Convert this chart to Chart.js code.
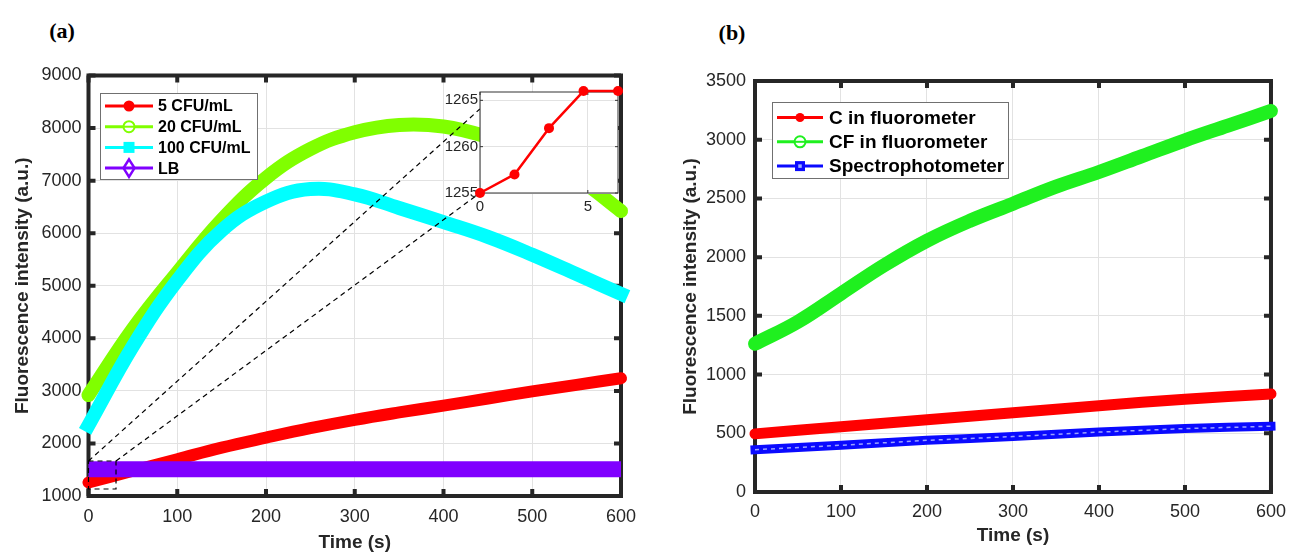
<!DOCTYPE html>
<html>
<head>
<meta charset="utf-8">
<title>Fluorescence intensity over time</title>
<script src="https://cdn.jsdelivr.net/npm/chart.js@4.4.0/dist/chart.umd.min.js"></script>
<style>
  body { margin: 0; background: #fff; width: 1295px; height: 553px; position: relative; overflow: hidden; }
  .panel { position: absolute; }
  .tag { position: absolute; font: bold 22px 'Liberation Serif', 'Times New Roman', serif; color: #000; transform: translate(-50%, -50%); }
</style>
</head>
<body>
<div class="tag" style="left:62px; top:31px;">(a)</div>
<div class="tag" style="left:732px; top:33px;">(b)</div>
<canvas id="chartA" class="panel" width="650" height="553" style="left:0; top:0;"></canvas>
<canvas id="chartB" class="panel" width="645" height="553" style="left:650px; top:0;"></canvas>
<canvas id="chartInset" class="panel" width="183" height="137" style="left:440px; top:81px;"></canvas>

<script>
// ---- data ----
// panel (a): every 50 s
const timeA = [0, 50, 100, 150, 200, 250, 300, 350, 400, 450, 500, 550, 600];
const cfu5 = [1258, 1480, 1700, 1920, 2110, 2290, 2450, 2590, 2720, 2855, 2990, 3115, 3240];
const cfu20 = [2920, 4180, 5250, 6250, 7050, 7600, 7920, 8060, 8030, 7830, 7520, 7060, 6420];
const cfu100 = [2345, 3850, 5100, 6050, 6600, 6840, 6740, 6480, 6210, 5930, 5590, 5220, 4845];
const timeLB = [0, 100, 200, 300, 400, 500, 600];
const lbValues = [1510, 1510, 1510, 1510, 1510, 1510, 1510];

// inset of panel (a): first seconds of 5 CFU/mL
const insetTime = [0, 1.6, 3.2, 4.8, 6.4];
const insetValues = [1255, 1257, 1262, 1266, 1266];

// panel (b)
const timeB = [0, 50, 100, 150, 200, 250, 300, 350, 400, 450, 500, 550, 600];
const cfFluor = [1262, 1450, 1690, 1930, 2140, 2310, 2455, 2600, 2725, 2860, 2995, 3120, 3245];
const timeLinear = [0, 100, 200, 300, 400, 500, 600];
const cFluor = [495, 555, 615, 675, 735, 790, 835];
const spectro = [360, 398, 440, 472, 510, 540, 560];

// tick labels
const ticksTime = [0, 100, 200, 300, 400, 500, 600];
const ticksA = [1000, 2000, 3000, 4000, 5000, 6000, 7000, 8000, 9000];
const ticksB = [0, 500, 1000, 1500, 2000, 2500, 3000, 3500];
const ticksInsetX = [0, 5];
const ticksInsetY = [1255, 1260, 1265];

const FONT = "'Liberation Sans', Arial, sans-serif";
const GRID = '#e2e2e2';
const AXIS = '#262626';

Chart.defaults.font.family = FONT;
Chart.defaults.color = AXIS;
Chart.defaults.animation = false;
Chart.defaults.events = [];
Chart.defaults.plugins.legend.display = false;
Chart.defaults.plugins.tooltip.enabled = false;

function toPoints(xs, ys) {
    return xs.map((x, i) => ({ x: x, y: ys[i] }));
}

function fixedTicks(values) {
    return function(scale) {
        scale.ticks = values.map(v => ({ value: v }));
    };
}

// legend / marker glyphs, MATLAB style
function drawMarker(ctx, kind, x, y, color, r) {
    ctx.save();
    ctx.lineWidth = 2;
    ctx.strokeStyle = color;
    ctx.fillStyle = color;
    ctx.beginPath();
    if (kind === 'dot') {
        ctx.arc(x, y, r, 0, Math.PI * 2);
        ctx.fill();
    } else if (kind === 'ring') {
        ctx.arc(x, y, r, 0, Math.PI * 2);
        ctx.fillStyle = '#fff';
        ctx.fill();
        ctx.stroke();
        ctx.beginPath();
        ctx.moveTo(x - r, y);
        ctx.lineTo(x + r, y);
        ctx.stroke();
    } else if (kind === 'square') {
        ctx.fillRect(x - r, y - r, r * 2, r * 2);
    } else if (kind === 'squareOpen') {
        ctx.fillRect(x - r, y - r, r * 2, r * 2);
        ctx.fillStyle = '#9db0ff';
        ctx.fillRect(x - r * 0.35, y - r * 0.35, r * 0.7, r * 0.7);
    } else if (kind === 'diamond') {
        ctx.moveTo(x, y - r * 1.6);
        ctx.lineTo(x + r, y);
        ctx.lineTo(x, y + r * 1.6);
        ctx.lineTo(x - r, y);
        ctx.closePath();
        ctx.lineWidth = 2.5;
        ctx.stroke();
    }
    ctx.restore();
}

// thick box + inward ticks on all four sides
const matlabFrame = {
    id: 'matlabFrame',
    beforeDraw(chart, args, opts) {
        if (!opts.fill) return;
        const a = chart.chartArea;
        chart.ctx.save();
        chart.ctx.fillStyle = opts.fill;
        chart.ctx.fillRect(a.left, a.top, a.right - a.left, a.bottom - a.top);
        chart.ctx.restore();
    },
    beforeDatasetsDraw(chart, args, opts) {
        const { ctx, chartArea: a, scales } = chart;
        ctx.save();
        ctx.strokeStyle = opts.color;
        ctx.lineWidth = opts.width;
        ctx.strokeRect(a.left, a.top, a.right - a.left, a.bottom - a.top);
        if (opts.tickLen > 0) {
            ctx.lineWidth = opts.tickWidth;
            ctx.beginPath();
            scales.x.ticks.forEach(t => {
                const px = scales.x.getPixelForValue(t.value);
                ctx.moveTo(px, a.bottom);
                ctx.lineTo(px, a.bottom - opts.tickLen);
                ctx.moveTo(px, a.top);
                ctx.lineTo(px, a.top + opts.tickLen);
            });
            scales.y.ticks.forEach(t => {
                const py = scales.y.getPixelForValue(t.value);
                ctx.moveTo(a.left, py);
                ctx.lineTo(a.left + opts.tickLen, py);
                ctx.moveTo(a.right, py);
                ctx.lineTo(a.right - opts.tickLen, py);
            });
            ctx.stroke();
        }
        ctx.restore();
    }
};

const boxLegend = {
    id: 'boxLegend',
    afterDraw(chart, args, o) {
        const ctx = chart.ctx;
        ctx.save();
        ctx.fillStyle = '#fff';
        ctx.fillRect(o.left, o.top, o.width, o.height);
        ctx.strokeStyle = '#707070';
        ctx.lineWidth = 1;
        ctx.strokeRect(o.left + 0.5, o.top + 0.5, o.width, o.height);
        ctx.font = 'bold ' + o.fontSize + 'px ' + FONT;
        ctx.textBaseline = 'middle';
        chart.data.datasets.forEach((ds, i) => {
            const y = o.top + o.firstRow + i * o.rowGap;
            ctx.strokeStyle = ds.borderColor;
            ctx.lineWidth = 3;
            ctx.beginPath();
            ctx.moveTo(o.sampleX0, y);
            ctx.lineTo(o.sampleX1, y);
            ctx.stroke();
            drawMarker(ctx, ds.legendMarker, (o.sampleX0 + o.sampleX1) / 2, y, ds.borderColor, ds.legendSize || o.markerSize);
            ctx.fillStyle = '#000';
            ctx.fillText(ds.label, o.textX, y + 1);
        });
        ctx.restore();
    }
};

// zoom box and the two dashed connectors to the inset
const zoomGuide = {
    id: 'zoomGuide',
    afterDatasetsDraw(chart, args, o) {
        const { ctx, scales } = chart;
        const px = v => scales.x.getPixelForValue(v);
        const py = v => scales.y.getPixelForValue(v);
        ctx.save();
        ctx.strokeStyle = '#000';
        ctx.lineWidth = 1.2;
        ctx.setLineDash([5, 4]);
        const b = o.box;
        ctx.strokeRect(px(b.x0), py(b.y1), px(b.x1) - px(b.x0), py(b.y0) - py(b.y1));
        ctx.beginPath();
        o.links.forEach(l => {
            ctx.moveTo(px(l[0]), py(l[1]));
            ctx.lineTo(px(l[2]), py(l[3]));
        });
        ctx.stroke();
        ctx.restore();
    }
};

// light dashes running along the blue marker band
const innerDash = {
    id: 'innerDash',
    afterDatasetsDraw(chart) {
        const ctx = chart.ctx;
        chart.data.datasets.forEach((ds, i) => {
            if (!ds.innerDash) return;
            const pts = chart.getDatasetMeta(i).data;
            ctx.save();
            ctx.strokeStyle = ds.innerDash;
            ctx.lineWidth = 1.5;
            ctx.setLineDash([4, 4]);
            ctx.beginPath();
            pts.forEach((p, k) => k === 0 ? ctx.moveTo(p.x, p.y) : ctx.lineTo(p.x, p.y));
            ctx.stroke();
            ctx.restore();
        });
    }
};

function lineSet(label, xs, ys, color, width, marker, order, extra) {
    return Object.assign({
        label: label,
        data: toPoints(xs, ys),
        borderColor: color,
        backgroundColor: color,
        borderWidth: width,
        borderCapStyle: 'round',
        borderJoinStyle: 'round',
        tension: 0.4,
        pointRadius: 0,
        clip: false,
        order: order,
        legendMarker: marker
    }, extra || {});
}

const plainNumber = v => String(v);

function axes(opts) {
    return {
        x: {
            type: 'linear',
            min: opts.xMin, max: opts.xMax,
            afterBuildTicks: fixedTicks(opts.xTicks),
            afterFit: s => { s.height = opts.xHeight; },
            grid: { color: GRID, drawTicks: false, lineWidth: 1 },
            border: { display: false },
            ticks: { padding: opts.xPad, maxRotation: 0, font: { size: opts.tickSize }, color: AXIS, callback: plainNumber },
            title: opts.xTitle ? {
                display: true, text: opts.xTitle, color: AXIS,
                font: { size: 19, weight: 'bold', lineHeight: 1 },
                padding: { top: 0, bottom: opts.xTitlePad }
            } : { display: false }
        },
        y: {
            type: 'linear',
            min: opts.yMin, max: opts.yMax,
            afterBuildTicks: fixedTicks(opts.yTicks),
            afterFit: s => { s.width = opts.yWidth; },
            grid: { color: GRID, drawTicks: false, lineWidth: 1 },
            border: { display: false },
            ticks: { padding: opts.yPad, font: { size: opts.tickSize }, color: AXIS, callback: plainNumber },
            title: opts.yTitle ? {
                display: true, text: opts.yTitle, color: AXIS,
                font: { size: 19, weight: 'bold', lineHeight: 1 },
                padding: { top: opts.yTitlePad, bottom: 0 }
            } : { display: false }
        }
    };
}

// ---- panel (a) ----
new Chart(document.getElementById('chartA'), {
    type: 'line',
    data: {
        datasets: [
            lineSet('5 CFU/mL', timeA, cfu5, '#ff0000', 12, 'dot', 3),
            lineSet('20 CFU/mL', timeA, cfu20, '#80ff00', 14, 'ring', 2),
            lineSet('100 CFU/mL', timeA, cfu100, '#00ffff', 14, 'square', 1, { borderCapStyle: 'square' }),
            lineSet('LB', timeLB, lbValues, '#8000ff', 16, 'diamond', 0, { borderCapStyle: 'butt', legendSize: 5.5 })
        ]
    },
    options: {
        responsive: false,
        layout: { padding: { left: 0, top: 75.5, right: 29, bottom: 0 } },
        scales: axes({
            xMin: 0, xMax: 600, xTicks: ticksTime, xHeight: 57, xPad: 10, xTitle: 'Time (s)', xTitlePad: 0.5,
            yMin: 1000, yMax: 9000, yTicks: ticksA, yWidth: 88.5, yPad: 7,
            yTitle: 'Fluorescence intensity (a.u.)', yTitlePad: 13.5, tickSize: 18
        }),
        plugins: {
            matlabFrame: { color: AXIS, width: 4, tickWidth: 4, tickLen: 7 },
            zoomGuide: {
                box: { x0: 0, x1: 31, y0: 1133, y1: 1666 },
                links: [[0, 1666, 441, 8363], [31, 1666, 441, 6765]]
            },
            boxLegend: {
                left: 100, top: 93, width: 157, height: 86,
                firstRow: 13, rowGap: 20.7, sampleX0: 105, sampleX1: 153, textX: 158,
                fontSize: 16, markerSize: 5.5
            }
        }
    },
    plugins: [matlabFrame, zoomGuide, boxLegend]
});

// ---- inset ----
new Chart(document.getElementById('chartInset'), {
    type: 'line',
    data: {
        datasets: [
            lineSet('5 CFU/mL', insetTime, insetValues, '#ff0000', 2.5, 'dot', 0, {
                tension: 0, pointRadius: 5, pointBackgroundColor: '#ff0000', pointBorderWidth: 0
            })
        ]
    },
    options: {
        responsive: false,
        layout: { padding: { left: 0, top: 10, right: 5, bottom: 0 } },
        scales: axes({
            xMin: 0, xMax: 6.4, xTicks: ticksInsetX, xHeight: 25, xPad: 5,
            yMin: 1255, yMax: 1265.9, yTicks: ticksInsetY, yWidth: 40, yPad: 2, tickSize: 15
        }),
        plugins: {
            matlabFrame: { color: '#333', width: 1, tickWidth: 1, tickLen: 3, fill: '#fff' }
        }
    },
    plugins: [matlabFrame]
});

// ---- panel (b) ----
new Chart(document.getElementById('chartB'), {
    type: 'line',
    data: {
        datasets: [
            lineSet('C in fluorometer', timeLinear, cFluor, '#ff0000', 11, 'dot', 2, { legendSize: 4.5 }),
            lineSet('CF in fluorometer', timeB, cfFluor, '#1ff01f', 14, 'ring', 1),
            lineSet('Spectrophotometer', timeLinear, spectro, '#0a0aff', 9, 'squareOpen', 0,
                { borderCapStyle: 'square', innerDash: 'rgba(190,200,255,0.8)', legendSize: 5 })
        ]
    },
    options: {
        responsive: false,
        layout: { padding: { left: 0, top: 81, right: 16, bottom: 0 } },
        scales: axes({
            xMin: 0, xMax: 600, xTicks: ticksTime, xHeight: 61, xPad: 9, xTitle: 'Time (s)', xTitlePad: 7.5,
            yMin: 0, yMax: 3500, yTicks: ticksB, yWidth: 105, yPad: 9,
            yTitle: 'Fluorescence intensity (a.u.)', yTitlePad: 31.5, tickSize: 18
        }),
        plugins: {
            matlabFrame: { color: AXIS, width: 4, tickWidth: 4, tickLen: 7 },
            boxLegend: {
                left: 122, top: 102, width: 236, height: 76,
                firstRow: 15.5, rowGap: 24.3, sampleX0: 127, sampleX1: 173, textX: 179,
                fontSize: 19, markerSize: 5.5
            }
        }
    },
    plugins: [matlabFrame, innerDash, boxLegend]
});
</script>
</body>
</html>
